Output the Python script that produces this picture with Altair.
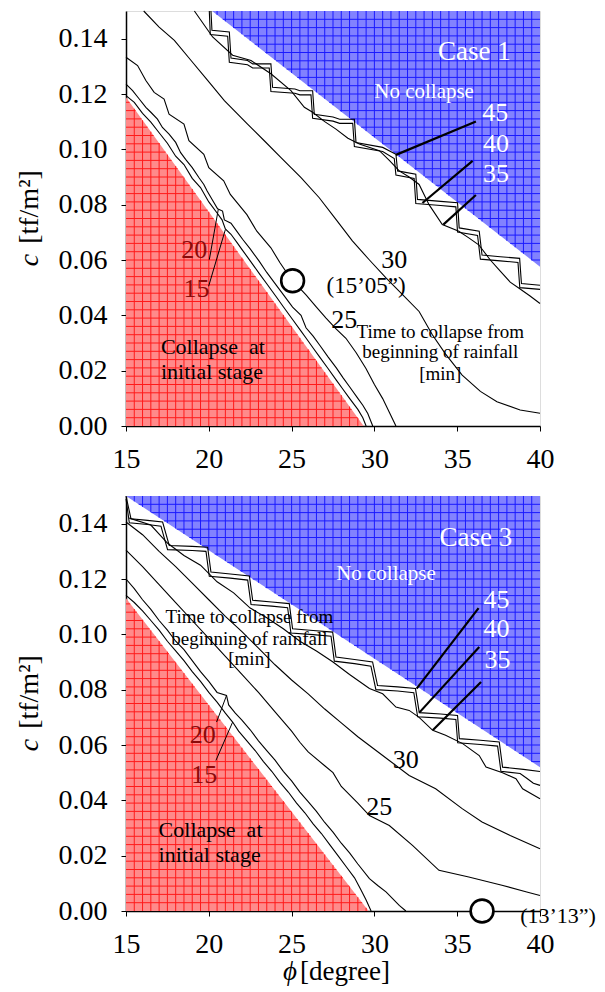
import altair as alt
import pandas as pd

FONT = "Liberation Serif"
X_TICKS = [15, 20, 25, 30, 35, 40]
Y_TICKS = [0.00, 0.02, 0.04, 0.06, 0.08, 0.10, 0.12, 0.14]

# ---------------- regions (triangle vertices) -------------
C1_RED = [(15, 0.1188), (29.35, 0.0)]      # (15,0)-(15,top)-(base,0)
C1_BLUE = [(20.2, 0.15), (40, 0.0576)]      # (x,0.15)-(40,0.15)-(40,y)
C3_RED = [(15, 0.113), (29.65, 0.0)]
C3_BLUE = [(15, 0.15), (40, 0.052)]

# ---------------- Case 1 contour lines ----------------
C1_L15 = [(15, 0.1194), (15.5, 0.1170), (16, 0.1130), (16.5, 0.1098), (17, 0.1060), (17.5, 0.1022),
          (18, 0.0975), (18.5, 0.0945), (19, 0.0895), (19.5, 0.0862), (20, 0.0810), (20.5, 0.0770),
          (20.8, 0.0745), (21.0, 0.0712), (21.34, 0.0693), (21.74, 0.0660), (22.04, 0.0635), (22.5, 0.0597),
          (23.05, 0.0551), (23.5, 0.0514), (24.06, 0.0468), (24.5, 0.0431), (25.06, 0.0385), (25.57, 0.0343),
          (25.87, 0.0318), (26.3, 0.0282), (26.7, 0.0249), (27.2, 0.0208), (27.7, 0.0166), (28.1, 0.0133),
          (28.5, 0.0100), (29.0, 0.0060), (29.3, 0.0030), (29.5, 0.0)]
C1_L20 = [(15, 0.1236), (15.4, 0.1212), (15.8, 0.1182), (16.2, 0.1152), (16.5, 0.1134), (16.9, 0.1109),
          (17.2, 0.1079), (17.6, 0.1055), (18.0, 0.1025), (18.3, 0.0988), (18.6, 0.0964), (19.0, 0.0934),
          (19.4, 0.0898), (19.7, 0.0873), (19.9, 0.0849), (20.2, 0.0819), (20.53, 0.0785), (20.83, 0.0777),
          (20.94, 0.0745), (21.34, 0.0733), (21.74, 0.0700), (22.04, 0.0675), (22.5, 0.0640), (23.05, 0.0595),
          (23.5, 0.0555), (24.06, 0.0510), (24.5, 0.0475), (25.06, 0.0430), (25.57, 0.0400), (25.87, 0.0355),
          (26.3, 0.0325), (26.7, 0.0292), (27.2, 0.0250), (27.7, 0.0210), (28.1, 0.0175), (28.5, 0.0142),
          (29.0, 0.0100), (29.3, 0.0075), (29.6, 0.0045), (29.9, 0.0)]
C1_L25 = [(15, 0.1333), (15.7, 0.1303), (16.2, 0.1249), (16.7, 0.1206), (17.3, 0.1182), (17.6, 0.1127),
          (18.5, 0.1091), (18.8, 0.1031), (19.7, 0.0982), (20.0, 0.0934), (20.9, 0.0886), (21.3, 0.0837),
          (22.3, 0.0764), (22.9, 0.0704), (23.75, 0.0644), (24.3, 0.0590), (24.7, 0.0555), (25.06, 0.0525),
          (25.87, 0.0474), (26.5, 0.0430), (27.08, 0.0390), (27.7, 0.0350), (28.28, 0.0317), (28.9, 0.0265),
          (29.49, 0.0208), (30.0, 0.0150), (30.5, 0.0099), (30.9, 0.0050), (31.3, 0.0)]
C1_L30 = [(16.07, 0.15), (17.0, 0.1442), (17.92, 0.1394), (18.93, 0.1321), (19.93, 0.1249), (20.94, 0.1176),
          (22.34, 0.1091), (23.35, 0.1031), (24.36, 0.0970), (25.57, 0.0898), (26.67, 0.0825), (27.7, 0.0745),
          (28.67, 0.0669), (29.7, 0.0600), (30.7, 0.0535), (31.7, 0.0475), (32.7, 0.0414), (33.5, 0.0330),
          (34.3, 0.0260), (35.3, 0.0184), (36.4, 0.0125), (37.4, 0.0088), (38.8, 0.0058), (40, 0.0046)]
C1_L35 = [(19.13, 0.15), (20.23, 0.1406), (21.44, 0.1340), (22.55, 0.1321), (23.75, 0.1273), (24.96, 0.1212),
          (25.77, 0.1152), (26.27, 0.1134), (27.0, 0.1100), (27.68, 0.1073), (28.4, 0.1040), (29.09, 0.1019),
          (30.3, 0.0995), (30.9, 0.0960), (31.5, 0.0922), (32.1, 0.0900), (32.7, 0.0873), (33.3, 0.0800),
          (34.1, 0.0728), (35.1, 0.0704), (35.7, 0.0680), (36.3, 0.0655), (37.0, 0.0600), (37.6, 0.0560),
          (38.2, 0.0520), (38.8, 0.0495), (39.4, 0.0470), (40, 0.0443)]
C1_L40 = [(20.03, 0.1500), (20.09, 0.1415), (21.14, 0.1409), (21.24, 0.1315), (22.34, 0.1306), (22.65, 0.1294),
          (23.65, 0.1294), (23.75, 0.1209), (25.2, 0.1203), (25.5, 0.1197), (26.17, 0.1197), (26.27, 0.1112),
          (27.5, 0.1102), (27.9, 0.1094), (28.69, 0.1094), (28.79, 0.1010), (30.5, 0.0992), (31.2, 0.0967),
          (31.3, 0.0907), (32.4, 0.0895), (32.5, 0.0804), (34.0, 0.0797), (34.92, 0.0792), (35.02, 0.0701),
          (36.23, 0.0689), (36.4, 0.0603), (37.6, 0.0597), (38.67, 0.0591), (38.78, 0.0500), (40, 0.0494)]
C1_L45 = [(20.13, 0.1500), (20.19, 0.1430), (21.24, 0.1424), (21.34, 0.1330), (22.34, 0.1321), (22.65, 0.1309),
          (23.75, 0.1309), (23.85, 0.1224), (25.2, 0.1218), (25.5, 0.1212), (26.27, 0.1212), (26.37, 0.1127),
          (27.5, 0.1117), (27.9, 0.1109), (28.79, 0.1109), (28.89, 0.1025), (30.5, 0.1007), (31.3, 0.0982),
          (31.4, 0.0922), (32.5, 0.0910), (32.6, 0.0819), (34.0, 0.0812), (35.02, 0.0807), (35.12, 0.0716),
          (36.33, 0.0704), (36.5, 0.0618), (37.6, 0.0612), (38.77, 0.0606), (38.88, 0.0515), (40, 0.0509)]

# ---------------- Case 3 contour lines ----------------
C3_L15 = [(15, 0.1141), (15.5, 0.1115), (16, 0.1085), (16.5, 0.1050), (17, 0.1015), (17.5, 0.0975),
          (18, 0.0940), (18.5, 0.0905), (19, 0.0865), (19.5, 0.0830), (20, 0.0790), (20.5, 0.0755),
          (21, 0.0715), (21.44, 0.0683), (21.8, 0.0650), (22.3, 0.0615), (22.8, 0.0580), (23.3, 0.0540),
          (23.8, 0.0505), (24.3, 0.0465), (24.8, 0.0430), (25.3, 0.0390), (25.8, 0.0355), (26.3, 0.0315),
          (26.8, 0.0280), (27.3, 0.0240), (27.8, 0.0200), (28.3, 0.0160), (28.8, 0.0120), (29.2, 0.0075),
          (29.5, 0.0040), (29.8, 0.0)]
C3_L20 = [(15, 0.1200), (15.5, 0.1165), (16, 0.1125), (16.5, 0.1090), (17, 0.1050), (17.5, 0.1015),
          (18, 0.0975), (18.5, 0.0945), (19, 0.0905), (19.5, 0.0865), (20, 0.0830), (20.5, 0.0790),
          (21.07, 0.0779), (21.2, 0.0745), (21.6, 0.0715), (22, 0.0690), (22.5, 0.0655), (23, 0.0615),
          (23.5, 0.0580), (24, 0.0545), (24.5, 0.0505), (25, 0.0470), (25.5, 0.0430), (26, 0.0395),
          (26.5, 0.0360), (27, 0.0320), (27.5, 0.0285), (28, 0.0245), (28.5, 0.0210), (29, 0.0170),
          (29.7, 0.0117), (30.2, 0.0092), (30.7, 0.0069), (31.1, 0.0045), (31.5, 0.0020), (31.9, 0.0)]
C3_L25 = [(15, 0.1304), (16, 0.1245), (17, 0.1180), (18, 0.1115), (19, 0.1050), (20, 0.0985), (21, 0.0920),
          (22, 0.0855), (23, 0.0790), (24, 0.0720), (25, 0.0650), (25.5, 0.0610), (26, 0.0575), (27, 0.0525),
          (27.5, 0.0500), (28, 0.0450), (29, 0.0390), (29.7, 0.0345), (30.9, 0.0309), (32.3, 0.0237),
          (33.9, 0.0147), (35.7, 0.0123), (37.7, 0.0093), (39.2, 0.0069), (40, 0.0056)]
C3_L30 = [(15, 0.1406), (16, 0.1360), (17, 0.1300), (18, 0.1245), (19, 0.1185), (20, 0.1125), (21, 0.1065),
          (22, 0.1010), (23, 0.0950), (24, 0.0890), (25, 0.0835), (26, 0.0785), (27, 0.0730), (28, 0.0680),
          (29, 0.0630), (29.7, 0.0598), (30.9, 0.0544), (32.1, 0.0490), (33.7, 0.0442), (35.3, 0.0370),
          (36.5, 0.0322), (38.2, 0.0273), (40, 0.0225)]
C3_L35 = [(15.2, 0.1420), (16.5, 0.1395), (17.5, 0.1330), (18.5, 0.1285), (19.5, 0.1250), (20.5, 0.1190),
          (21.5, 0.1150), (22.5, 0.1095), (23.5, 0.1060), (24.5, 0.1020), (25.5, 0.0975), (26.5, 0.0940),
          (27.5, 0.0900), (28.5, 0.0855), (29.7, 0.0804), (30.5, 0.0785), (31.3, 0.0737), (32.1, 0.0725),
          (32.7, 0.0700), (33.52, 0.0653), (34.3, 0.0635), (35.33, 0.0605), (36.33, 0.0562), (36.74, 0.0520),
          (37.74, 0.0500), (38.55, 0.0478), (38.95, 0.0442), (40, 0.0406)]
C3_L40 = [(15, 0.1490), (15.2, 0.1403), (16.3, 0.1397), (17.11, 0.1391), (17.51, 0.1306), (19.0, 0.1303),
          (19.83, 0.1300), (20.03, 0.1210), (21.3, 0.1203), (22.35, 0.1196), (22.55, 0.1108), (23.8, 0.1102),
          (24.76, 0.1096), (24.96, 0.1005), (26.3, 0.0999), (27.38, 0.0993), (27.58, 0.0903), (28.8, 0.0894),
          (29.79, 0.0885), (30.09, 0.0800), (31.4, 0.0795), (32.38, 0.0789), (32.61, 0.0702), (34.0, 0.0697),
          (34.92, 0.0692), (35.03, 0.0608), (36.4, 0.0602), (37.44, 0.0596), (37.64, 0.0505), (38.8, 0.0497),
          (39.2, 0.0480), (39.6, 0.0462), (40, 0.0454)]
C3_L45 = [(15, 0.1500), (15.3, 0.1418), (16.3, 0.1412), (17.21, 0.1406), (17.61, 0.1321), (19.0, 0.1318),
          (19.93, 0.1315), (20.13, 0.1225), (21.3, 0.1218), (22.45, 0.1211), (22.65, 0.1123), (23.8, 0.1117),
          (24.86, 0.1111), (25.06, 0.1020), (26.3, 0.1014), (27.48, 0.1008), (27.68, 0.0918), (28.8, 0.0909),
          (29.89, 0.0900), (30.19, 0.0815), (31.4, 0.0810), (32.48, 0.0804), (32.71, 0.0717), (34.0, 0.0712),
          (35.02, 0.0707), (35.13, 0.0623), (36.4, 0.0617), (37.54, 0.0611), (37.74, 0.0520), (39.0, 0.0512),
          (40, 0.0504)]

# ---------------- leader lines (x1, y1, x2, y2) ----------------
C1_LEAD_THICK = [(36.13, 0.1101, 31.3, 0.0980), (35.93, 0.0958, 32.9, 0.0806), (36.13, 0.0835, 34.16, 0.0728)]
C1_LEAD_THIN = [(20.03, 0.0601, 20.57, 0.0782), (19.99, 0.0505, 21.0, 0.0710)]
C3_LEAD_THICK = [(36.29, 0.1095, 32.55, 0.0804), (36.33, 0.0954, 32.71, 0.0717), (36.44, 0.0828, 33.52, 0.0653)]
C3_LEAD_THIN = [(20.47, 0.0683, 21.07, 0.0779), (20.43, 0.0544, 21.44, 0.0683)]

# ---------------- collapse points ----------------
C1_POINT = [(25.06, 0.0525)]
C3_POINT = [(36.5, 0.0)]

# ---------------- text labels (text, x, y, size) ----------------
C1_WHITE = [("Case 1", 36.03, 0.1351, 27), ("No collapse", 33.0, 0.1206, 21),
            ("45", 37.3, 0.1133, 26), ("40", 37.34, 0.1019, 26), ("35", 37.34, 0.0910, 26)]
C1_BLACK = [("30", 31.2, 0.0601, 26), ("25", 28.18, 0.0383, 26), ("(15\u201905\u201d)", 29.5, 0.0505, 23),
            ("Time to collapse from", 33.98, 0.0341, 19), ("beginning of rainfall", 33.98, 0.0268, 19),
            ("[min]", 33.98, 0.0188, 19)]
C1_DARKRED = [("20", 19.12, 0.0637, 26), ("15", 19.26, 0.0495, 26)]
C1_LEFT = [("Collapse\u00a0 at", 17.11, 0.0287, 22), ("initial stage", 17.11, 0.0196, 22)]

C3_WHITE = [("Case 3", 36.13, 0.1348, 27), ("No collapse", 30.7, 0.1219, 21),
            ("45", 37.38, 0.1125, 26), ("40", 37.38, 0.1020, 26), ("35", 37.44, 0.0906, 26)]
C3_BLACK = [("30", 31.9, 0.0544, 26), ("25", 30.3, 0.0376, 26),
            ("Time to collapse from", 22.45, 0.1062, 19), ("beginning of rainfall", 22.45, 0.0984, 19),
            ("[min]", 22.45, 0.0912, 19)]
C3_DARKRED = [("20", 19.63, 0.0635, 26), ("15", 19.73, 0.0490, 26)]
C3_LEFT = [("Collapse\u00a0 at", 16.97, 0.0291, 22), ("initial stage", 16.97, 0.0201, 22),
           ("(13\u201913\u201d)", 38.8, -0.0017, 22)]

LEVELS = [15, 20, 25, 30, 35, 40, 45]

XMIN, XMAX, YMAX = 15, 40, 0.15
GRID_DX, GRID_DY = 0.5, 0.003

xs = alt.Scale(domain=[XMIN, XMAX], nice=False, zero=False)
ys = alt.Scale(domain=[0, YMAX], nice=False, zero=False)


def red_grid(tri):
    (x0, ytop), (xb, _) = tri
    rows = []
    for k in range(1, 60):
        x = x0 + k * GRID_DX
        if x >= xb:
            break
        rows.append({"x": x, "y": 0.0, "x2": x, "y2": ytop * (1 - (x - x0) / (xb - x0))})
    for k in range(1, 60):
        y = k * GRID_DY
        if y >= ytop:
            break
        rows.append({"x": x0, "y": y, "x2": x0 + (xb - x0) * (1 - y / ytop), "y2": y})
    return pd.DataFrame(rows)


def blue_grid(tri):
    (xb, _), (_, yb) = tri
    slope = (YMAX - yb) / (XMAX - xb)
    rows = []
    for k in range(0, 60):
        x = XMIN + k * GRID_DX
        if x <= xb:
            continue
        if x >= XMAX:
            break
        rows.append({"x": x, "y": YMAX - slope * (x - xb), "x2": x, "y2": YMAX})
    for k in range(1, 60):
        y = YMAX - k * GRID_DY
        if y <= yb:
            break
        rows.append({"x": xb + (YMAX - y) / slope, "y": y, "x2": XMAX, "y2": y})
    return pd.DataFrame(rows)


def lines_df(lines):
    rows = []
    for lev, pts in zip(LEVELS, lines):
        for i, (x, y) in enumerate(pts):
            rows.append({"level": lev, "i": i, "x": x, "y": y})
    return pd.DataFrame(rows)


def text_df(items):
    return pd.DataFrame([{"t": t, "x": x, "y": y, "fs": s} for t, x, y, s in items])


def lead_df(items):
    return pd.DataFrame([{"x": a, "y": b, "x2": c, "y2": d} for a, b, c, d in items])


def panel(red, blue, lines, lead_thick, lead_thin, point, white, black, darkred, left, show_xtitle):
    red_df = pd.DataFrame({"x": [red[0][0], red[1][0]], "y": [red[0][1], red[1][1]], "y2": [0.0, 0.0]})
    blue_df = pd.DataFrame({"x": [blue[0][0], blue[1][0]], "y": [blue[0][1], blue[1][1]], "y2": [YMAX, YMAX]})

    xaxis = alt.Axis(values=X_TICKS, format="d", title=None, grid=False, labelFont=FONT, labelFontSize=28,
                     labelColor="black", tickColor="black", domainColor="black", tickSize=5,
                     domainWidth=1.5, labelPadding=14, labelFlush=False, labelOverlap=False)
    yaxis = alt.Axis(values=Y_TICKS, format=".2f", title=None, grid=False, labelFont=FONT, labelFontSize=28,
                     labelColor="black", tickColor="black", domainColor="black", tickSize=5,
                     domainWidth=1.5, labelPadding=14, labelFlush=False, labelOverlap=False)

    base_x = alt.X("x:Q", scale=xs, axis=xaxis)
    base_y = alt.Y("y:Q", scale=ys, axis=yaxis)

    red_area = alt.Chart(red_df).mark_area(color="#ff8a8a", opacity=1).encode(x=base_x, y=base_y, y2="y2:Q")
    blue_area = alt.Chart(blue_df).mark_area(color="#8282ff", opacity=1).encode(
        x=alt.X("x:Q", axis=xaxis), y=alt.Y("y:Q", axis=yaxis), y2="y2:Q")
    rg = alt.Chart(red_grid(red)).mark_rule(color="#ff1a1a", strokeWidth=1).encode(
        x="x:Q", y="y:Q", x2="x2:Q", y2="y2:Q")
    bg = alt.Chart(blue_grid(blue)).mark_rule(color="#1a1aff", strokeWidth=1).encode(
        x="x:Q", y="y:Q", x2="x2:Q", y2="y2:Q")

    contour = alt.Chart(lines_df(lines)).mark_line(color="black", strokeWidth=1.1).encode(
        x="x:Q", y="y:Q", detail="level:N", order="i:Q")

    lt = alt.Chart(lead_df(lead_thick)).mark_rule(color="black", strokeWidth=2.2).encode(
        x="x:Q", y="y:Q", x2="x2:Q", y2="y2:Q")
    ln = alt.Chart(lead_df(lead_thin)).mark_rule(color="black", strokeWidth=1).encode(
        x="x:Q", y="y:Q", x2="x2:Q", y2="y2:Q")

    pt = alt.Chart(pd.DataFrame({"x": [p[0] for p in point], "y": [p[1] for p in point]})).mark_point(
        shape="circle", size=520, filled=True, fill="white", stroke="black", strokeWidth=2.6, opacity=1
    ).encode(x="x:Q", y="y:Q")

    def txt(items, color, align="center"):
        return alt.Chart(text_df(items)).mark_text(font=FONT, color=color, align=align, baseline="middle").encode(
            x="x:Q", y="y:Q", text="t:N", size=alt.Size("fs:Q", scale=None, legend=None))

    t_white = txt(white, "white")
    t_black = txt(black, "black")
    t_dark = txt(darkred, "#8b0a0a")
    t_left = txt(left, "black", align="left")

    yt1 = alt.Chart(pd.DataFrame({"t": ["c"]})).mark_text(
        font=FONT, fontSize=28, fontStyle="italic", angle=270, align="center",
        baseline="middle", color="black").encode(x=alt.value(-96), y=alt.value(249), text="t:N")
    yt2 = alt.Chart(pd.DataFrame({"t": ["[tf/m\u00b2]"]})).mark_text(
        font=FONT, fontSize=28, angle=270, align="center", baseline="middle", color="black").encode(
        x=alt.value(-96), y=alt.value(196), text="t:N")

    layers = [red_area, blue_area, rg, bg, contour, lt, ln, pt, t_white, t_black, t_dark, t_left, yt1, yt2]
    if show_xtitle:
        xt1 = alt.Chart(pd.DataFrame({"t": ["\u03d5"]})).mark_text(
            font=FONT, fontSize=27, fontStyle="italic", align="right", baseline="alphabetic",
            color="black").encode(x=alt.value(171), y=alt.value(484), text="t:N")
        xt2 = alt.Chart(pd.DataFrame({"t": ["[degree]"]})).mark_text(
            font=FONT, fontSize=27, align="left", baseline="alphabetic", color="black").encode(
            x=alt.value(174), y=alt.value(484), text="t:N")
        layers += [xt1, xt2]
    return alt.layer(*layers).properties(width=414, height=415)


top = panel(C1_RED, C1_BLUE, [C1_L15, C1_L20, C1_L25, C1_L30, C1_L35, C1_L40, C1_L45],
            C1_LEAD_THICK, C1_LEAD_THIN, C1_POINT, C1_WHITE, C1_BLACK, C1_DARKRED, C1_LEFT, False)
bottom = panel(C3_RED, C3_BLUE, [C3_L15, C3_L20, C3_L25, C3_L30, C3_L35, C3_L40, C3_L45],
               C3_LEAD_THICK, C3_LEAD_THIN, C3_POINT, C3_WHITE, C3_BLACK, C3_DARKRED, C3_LEFT, True)

chart = alt.vconcat(top, bottom, spacing=70, bounds="flush").properties(
    padding={"left": 7, "top": 0, "right": 0, "bottom": 0}
).configure_view(stroke="black", strokeWidth=1.5).configure_axis(
    labelFont=FONT, labelFontSize=28, titleFont=FONT
).configure_text(font=FONT).configure(background="white")

chart.save("out.html", embed_options={"renderer": "svg", "actions": False})
